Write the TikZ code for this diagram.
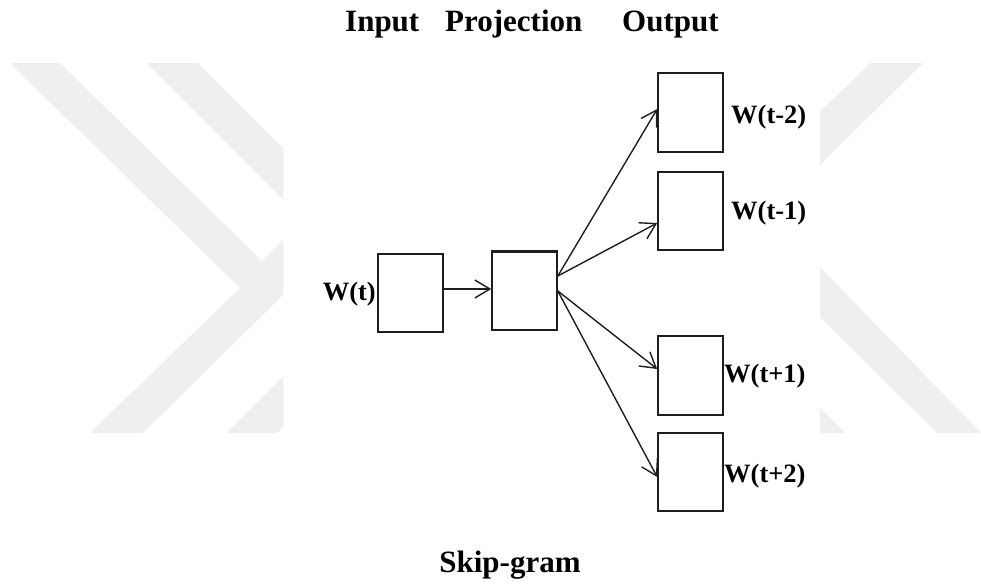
\documentclass[tikz,border=0pt]{standalone}
\usepackage{fontspec}
\setmainfont{Liberation Serif}
\usetikzlibrary{arrows.meta}
\definecolor{wmark}{HTML}{EFEFEF}
\definecolor{ink}{HTML}{1E1E1E}
\begin{document}
\begin{tikzpicture}[x=1pt,y=-1pt,
  unitbox/.style={draw=ink,line width=1.6pt,minimum width=65pt,minimum height=78pt,inner sep=0pt},
  arr/.style={draw=ink,line width=1.4pt,-{Straight Barb[length=15pt,width=18pt,line width=1.4pt]}},
  heading/.style={font=\fontsize{31}{36}\selectfont\bfseries,inner sep=0pt},
  wlabel/.style={font=\fontsize{26.5}{30}\selectfont\bfseries,inner sep=0pt}]
\useasboundingbox (0,0) rectangle (981,586);
% watermark
\fill[wmark] (10,63) -- (60,63) -- (262,261) -- (283,240) -- (283,295) -- (143,433) -- (90,433) -- (240,288) -- cycle;
\fill[wmark] (147,63) -- (198,63) -- (283,148) -- (283,199) -- cycle;
\fill[wmark] (227,433) -- (283,377) -- (283,427) -- (277,433) -- cycle;
\fill[wmark] (870,63) -- (923,63) -- (820,165) -- (820,112) -- cycle;
\fill[wmark] (820,267) -- (981,433) -- (937,433) -- (820,317) -- cycle;
\fill[wmark] (820,408) -- (845,433) -- (820,433) -- cycle;
% headings
\node[heading,anchor=base west] (hin) at (345,32) {Input};
\node[heading,anchor=base west] (hproj) at (445,32) {Projection};
\node[heading,anchor=base west] (hout) at (622,32) {Output};
\node[heading,anchor=base] (cap) at (510,572) {Skip-gram};
% boxes
\node[unitbox] (in) at (410.5,293) {};
\node[unitbox] (proj) at (524.5,291) {};
\draw[ink,line width=3pt] (proj.north west) -- (proj.north east);
\node[unitbox,minimum height=79pt] (o1) at (690.5,112.5) {};
\node[unitbox] (o2) at (690.5,211) {};
\node[unitbox,minimum height=79pt] (o3) at (690.5,375.5) {};
\node[unitbox] (o4) at (690.5,472) {};
% labels
\node[wlabel,anchor=base east] (lin) at (376,300) {W(t)};
\node[wlabel,anchor=base west] (l1) at (731,123) {W(t-2)};
\node[wlabel,anchor=base west] (l2) at (731,219) {W(t-1)};
\node[wlabel,anchor=base west] (l3) at (724,382) {W(t+1)};
\node[wlabel,anchor=base west] (l4) at (724,482) {W(t+2)};
% connectors
\coordinate (a0) at ([yshift=4pt]in.east);
\draw[arr] (a0) -- (a0 -| proj.west);
\coordinate (su) at ([yshift=15pt]proj.east);
\coordinate (sd) at (proj.east);
\draw[arr] (su) -- ([yshift=3.5pt]o1.west);
\draw[arr] (su) -- ([yshift=-12pt]o2.west);
\draw[arr] (sd) -- ([yshift=6.5pt]o3.west);
\draw[arr] (sd) -- ([yshift=-5pt]o4.west);
\end{tikzpicture}
\end{document}
